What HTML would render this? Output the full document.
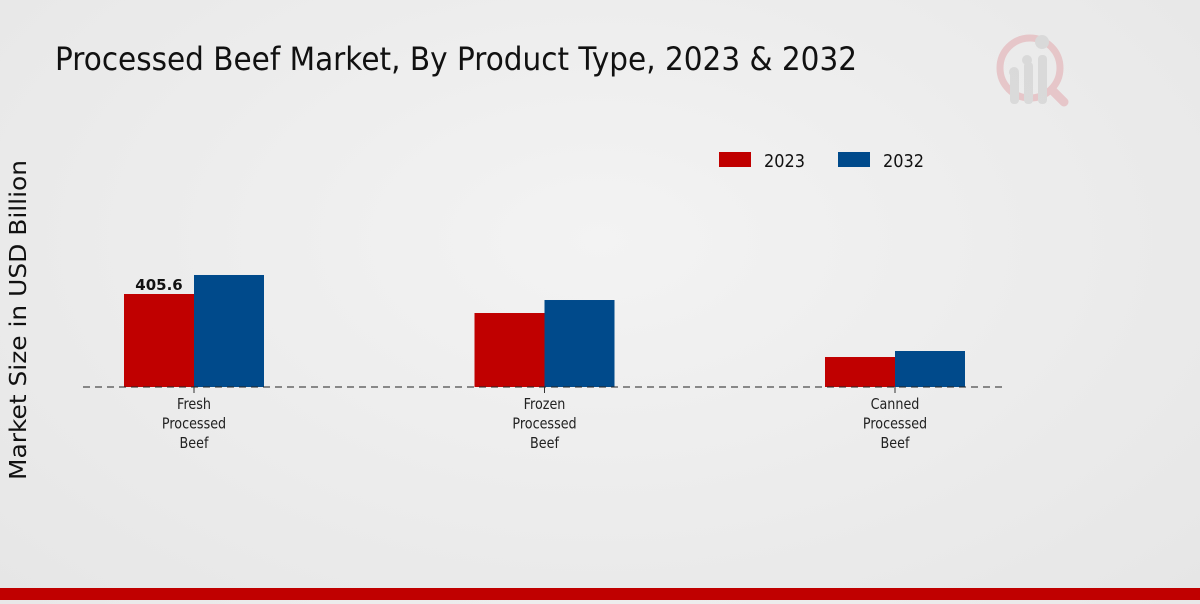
<!DOCTYPE html>
<html><head><meta charset="utf-8"><style>
html,body{margin:0;padding:0;}
body{width:1200px;height:600px;overflow:hidden;background:radial-gradient(ellipse at 50% 40%,#f3f3f3 0%,#e6e6e6 100%);font-family:"DejaVu Sans","Liberation Sans",sans-serif;}
svg text{font-family:"DejaVu Sans","Liberation Sans",sans-serif;}
</style></head><body>
<svg id="chart" width="1200" height="600">
<text x="55" y="70" font-size="32" textLength="802" lengthAdjust="spacingAndGlyphs" fill="#111">Processed Beef Market, By Product Type, 2023 &amp; 2032</text>
<g opacity="0.5">
<circle cx="1030" cy="68" r="30" fill="none" stroke="#e2a3a8" stroke-width="7"/>
<line x1="1052" y1="90" x2="1064" y2="102" stroke="#e2a3a8" stroke-width="9" stroke-linecap="round"/>
<rect x="1010" y="70" width="9" height="34" rx="4" fill="#c9c9c9"/>
<rect x="1024" y="62" width="9" height="42" rx="4" fill="#c9c9c9"/>
<rect x="1038" y="55" width="9" height="49" rx="4" fill="#c9c9c9"/>
<circle cx="1014" cy="72" r="5" fill="#c9c9c9"/><circle cx="1027" cy="60" r="5" fill="#c9c9c9"/><circle cx="1042" cy="42" r="7" fill="#c9c9c9"/>
</g>
<g>
<rect x="719" y="152" width="32" height="15" fill="#c00000"/>
<text x="764" y="167" font-size="18" textLength="41" lengthAdjust="spacingAndGlyphs" fill="#111">2023</text>
<rect x="838" y="152" width="32" height="15" fill="#004a8b"/>
<text x="883" y="167" font-size="18" textLength="41" lengthAdjust="spacingAndGlyphs" fill="#111">2032</text>
</g>
<text transform="translate(26,320) rotate(-90)" text-anchor="middle" font-size="23" textLength="320" lengthAdjust="spacingAndGlyphs" fill="#111">Market Size in USD Billion</text>
<g id="bars"></g>
<line x1="83" y1="387" x2="1007" y2="387" stroke="#222" stroke-dasharray="7,5"/>
<g id="labels"></g>
<rect x="0" y="588" width="1200" height="12" fill="#c00000"/>
</svg>
<script>
const categories=[["Fresh","Processed","Beef"],["Frozen","Processed","Beef"],["Canned","Processed","Beef"]];
const values2023=[405.6,322.7,130.8];
const values2032=[488.5,379.4,157.0];
const valueLabels=["405.6",null,null];
const ns="http://www.w3.org/2000/svg";
const base=387, pxPer=93/405.6;
function y(v){return base-v*pxPer;}
function xc(i){return 194+i*350.5;}
const bars=document.getElementById('bars'),labels=document.getElementById('labels');
function mk(t,a){const e=document.createElementNS(ns,t);for(const k in a)e.setAttribute(k,a[k]);return e;}
categories.forEach((c,i)=>{
 [[values2023,"#c00000",-70,"2023"],[values2032,"#004a8b",0,"2032"]].forEach(([arr,col,off,s])=>{
  const r=mk('rect',{x:xc(i)+off,y:y(arr[i]),width:70,height:base-y(arr[i]),fill:col});
  
  
  bars.appendChild(r);
 });
 if(valueLabels[i]){
  const t=mk('text',{x:xc(i)-35,y:y(values2023[i])-4,'text-anchor':'middle','font-size':15,'font-weight':'bold',fill:'#111'});
  t.textContent=valueLabels[i];
  
  
  labels.appendChild(t);
 }
 const tk=mk('line',{x1:xc(i),x2:xc(i),y1:387,y2:393,stroke:'#333'});
 
 
 labels.appendChild(tk);
 c.forEach((w,j)=>{
  const t=mk('text',{x:0,y:0,'text-anchor':'middle','font-size':15,fill:'#222',transform:'translate('+xc(i)+','+(409+j*19.5)+') scale(0.85,1)'});
  t.textContent=w;
  
  
  labels.appendChild(t);
 });
});
</script>
</body></html>
